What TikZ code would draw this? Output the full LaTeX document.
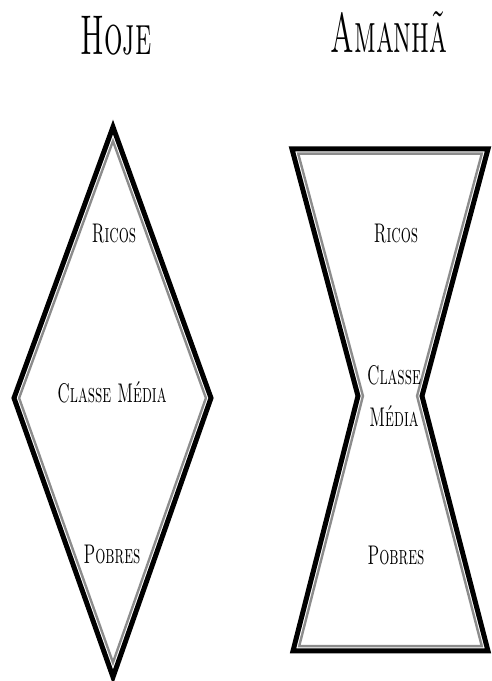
\documentclass[tikz,border=0pt]{standalone}
\usepackage{graphicx}
\newcommand\narrow[2]{\scalebox{#1}[1]{#2}}
\begin{document}
\begin{tikzpicture}[
    x=1pt, y=1pt,
    outline/.style={draw=black, line width=5pt, line join=miter},
    innerline/.style={draw=black!45, line width=12pt},
    gapline/.style={draw=white, line width=7pt},
    title/.style={font=\fontsize{56}{60}\selectfont\scshape, inner sep=0pt},
    tag/.style={font=\fontsize{27}{42}\selectfont\scshape, inner sep=0pt, align=center}
  ]
  \useasboundingbox (0,0) rectangle (492,681);

  % diamond (hoje)
  \coordinate (dtop) at (113,554);
  \coordinate (dright) at (211,283);
  \coordinate (dbot) at (113,4);
  \coordinate (dleft) at (14,283);

  % hourglass (amanha)
  \coordinate (htl) at (292,532);
  \coordinate (htr) at (488,532);
  \coordinate (hwr) at (422,285);
  \coordinate (hbr) at (488,30);
  \coordinate (hbl) at (293,30);
  \coordinate (hwl) at (358,285);

  \begin{scope}
    \clip (dtop) -- (dright) -- (dbot) -- (dleft) -- cycle;
    \draw[innerline] (dtop) -- (dright) -- (dbot) -- (dleft) -- cycle;
    \draw[gapline] (dtop) -- (dright) -- (dbot) -- (dleft) -- cycle;
  \end{scope}
  \draw[outline] (dtop) -- (dright) -- (dbot) -- (dleft) -- cycle;

  \begin{scope}
    \clip (htl) -- (htr) -- (hwr) -- (hbr) -- (hbl) -- (hwl) -- cycle;
    \draw[innerline] (htl) -- (htr) -- (hwr) -- (hbr) -- (hbl) -- (hwl) -- cycle;
    \draw[gapline] (htl) -- (htr) -- (hwr) -- (hbr) -- (hbl) -- (hwl) -- cycle;
  \end{scope}
  \draw[outline] (htl) -- (htr) -- (hwr) -- (hbr) -- (hbl) -- (hwl) -- cycle;

  % titles
  \node[title, anchor=base] (hoje) at (116,626) {\narrow{0.52}{Hoje}};
  \node[title, anchor=base] (amanha) at (389,628) {\narrow{0.52}{Amanhã}};

  % labels
  \node[tag] (ricosL) at (114,447) {\narrow{0.59}{Ricos}};
  \node[tag] (mediaL) at (112,289) {\narrow{0.59}{Classe Média}};
  \node[tag] (pobresL) at (112,127) {\narrow{0.59}{Pobres}};
  \node[tag] (ricosR) at (396,447) {\narrow{0.59}{Ricos}};
  \node[tag] (mediaR) at (394,285) {\narrow{0.59}{Classe}\\\narrow{0.59}{Média}};
  \node[tag] (pobresR) at (396,126) {\narrow{0.59}{Pobres}};
\end{tikzpicture}
\end{document}
